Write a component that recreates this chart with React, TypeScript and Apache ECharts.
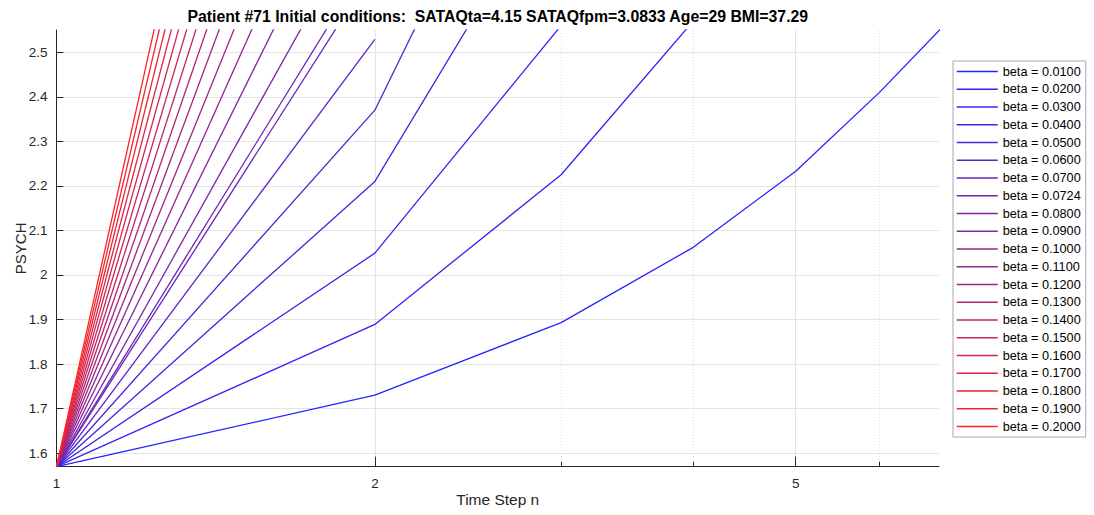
import React, { useEffect, useRef } from "react";
import * as echarts from "echarts";

// ---- data ----
const timeSteps = [1, 2, 3, 4, 5, 6, 7];
const betaLabels = [
  "0.0100", "0.0200", "0.0300", "0.0400", "0.0500", "0.0600", "0.0700",
  "0.0724", "0.0800", "0.0900", "0.1000", "0.1100", "0.1200", "0.1300",
  "0.1400", "0.1500", "0.1600", "0.1700", "0.1800", "0.1900", "0.2000",
];
const psych_b0100 = [1.5695, 1.73, 1.893, 2.062, 2.233, 2.41, 2.575];
const psych_b0200 = [1.5695, 1.889, 2.225, 2.57];
const psych_b0300 = [1.5695, 2.049, 2.56];
const psych_b0400 = [1.5695, 2.21, 2.904];
const psych_b0500 = [1.5695, 2.37, 3.224];
const psych_b0600 = [1.5695, 2.529];
const psych_b0700 = [1.5695, 2.69];
const psych_b0724 = [1.5695, 2.728];
const psych_b0800 = [1.5695, 2.85];
const psych_b0900 = [1.5695, 3.01];
const psych_b1000 = [1.5695, 3.17];
const psych_b1100 = [1.5695, 3.33];
const psych_b1200 = [1.5695, 3.49];
const psych_b1300 = [1.5695, 3.65];
const psych_b1400 = [1.5695, 3.81];
const psych_b1500 = [1.5695, 3.97];
const psych_b1600 = [1.5695, 4.13];
const psych_b1700 = [1.5695, 4.29];
const psych_b1800 = [1.5695, 4.45];
const psych_b1900 = [1.5695, 4.61];
const psych_b2000 = [1.5695, 4.77];

const psychSeries = [
  psych_b0100, psych_b0200, psych_b0300, psych_b0400, psych_b0500, psych_b0600,
  psych_b0700, psych_b0724, psych_b0800, psych_b0900, psych_b1000, psych_b1100,
  psych_b1200, psych_b1300, psych_b1400, psych_b1500, psych_b1600, psych_b1700,
  psych_b1800, psych_b1900, psych_b2000,
];

const xMajorTicks = [1, 2, 5];
const xMinorTicks = [3, 4, 6];
const yTicks = [1.6, 1.7, 1.8, 1.9, 2.0, 2.1, 2.2, 2.3, 2.4, 2.5];
const xMin = 1;
const xMax = 6.83;
const yMin = 1.5695;
const yMax = 2.55;

const titleText =
  "Patient #71 Initial conditions:  SATAQta=4.15 SATAQfpm=3.0833 Age=29 BMI=37.29";

const FONT = '"Liberation Sans", Arial, Helvetica, sans-serif';
const AX = "#262626";

function colorFor(i: number, n: number) {
  const t = i / (n - 1);
  const w = 0.14; // slight lightening, like the anti-aliased reference lines
  const r = Math.round(255 * (t + (1 - t) * w));
  const g = Math.round(255 * w);
  const b = Math.round(255 * ((1 - t) + t * w));
  return `rgb(${r},${g},${b})`;
}

export default function App() {
  const ref = useRef<HTMLDivElement>(null);
  useEffect(() => {
    if (!ref.current) return;
    const chart = echarts.init(ref.current, null, { renderer: "svg" });
    const n = psychSeries.length;
    const series = psychSeries.map((vals, i) => ({
      type: "line",
      name: "beta = " + betaLabels[i],
      xAxisIndex: 0,
      yAxisIndex: 0,
      data: vals.map((v, k) => [timeSteps[k], v]),
      symbol: "none",
      showSymbol: false,
      clip: true,
      color: colorFor(i, n),
      lineStyle: { width: 1.3, color: colorFor(i, n) },
    }));
    const gridLeft = 56.5;
    const gridRight = 155;
    const option: any = {
      animation: false,
      backgroundColor: "#ffffff",
      textStyle: { fontFamily: FONT },
      grid: {
        left: gridLeft,
        right: gridRight,
        top: 30,
        bottom: 48.3,
        containLabel: false,
        outerBoundsMode: "none",
      },
      graphic: [
        {
          type: "text",
          x: (gridLeft + (1094 - gridRight)) / 2,
          y: 16,
          style: {
            text: titleText,
            fill: "#000000",
            font: `bold 15.8px ${FONT}`,
            align: "center",
            verticalAlign: "middle",
          },
        },
      ],
      legend: {
        orient: "vertical",
        left: 953,
        top: 61,
        padding: [4, 5, 4, 3],
        itemWidth: 41,
        itemHeight: 14,
        itemGap: 4.75,
        selectedMode: false,
        backgroundColor: "#ffffff",
        borderColor: "#a8a8a8",
        borderWidth: 1,
        itemStyle: { opacity: 0 },
        lineStyle: { width: 1.5 },
        textStyle: { fontSize: 12.7, color: "#000000", fontFamily: FONT },
        data: betaLabels.map((b) => "beta = " + b),
      },
      xAxis: [
        {
          type: "log",
          logBase: 10,
          min: xMin,
          max: xMax,
          position: "bottom",
          name: "Time Step n",
          nameLocation: "middle",
          nameGap: 25,
          nameMoveOverlap: false,
          nameTextStyle: { fontSize: 15.5, color: AX, fontFamily: FONT },
          axisLine: { show: true, lineStyle: { color: AX, width: 1 } },
          axisTick: {
            show: true,
            inside: true,
            length: 10,
            customValues: xMajorTicks,
            lineStyle: { color: AX, width: 1 },
          },
          axisLabel: {
            customValues: xMajorTicks,
            fontSize: 13.5,
            color: AX,
            margin: 10,
            fontFamily: FONT,
            formatter: (v: number) => String(Math.round(v)),
          },
          splitLine: { show: true, lineStyle: { color: "#e4e4e4", width: 1 } },
        },
        {
          type: "log",
          logBase: 10,
          min: xMin,
          max: xMax,
          position: "bottom",
          axisLine: { show: false },
          axisTick: {
            show: true,
            inside: true,
            length: 5,
            customValues: xMinorTicks,
            lineStyle: { color: AX, width: 1 },
          },
          axisLabel: { show: false },
          splitLine: {
            show: true,
            lineStyle: { color: "#dcdcdc", width: 1, type: [1, 2] },
          },
        },
      ],
      yAxis: {
        type: "value",
        min: yMin,
        max: yMax,
        name: "PSYCH",
        nameLocation: "middle",
        nameGap: 29,
        nameMoveOverlap: false,
        nameTextStyle: { fontSize: 15, color: AX, fontFamily: FONT },
        axisLine: { show: true, lineStyle: { color: AX, width: 1 } },
        axisTick: {
          show: true,
          inside: true,
          length: 7,
          customValues: yTicks,
          lineStyle: { color: AX, width: 1 },
        },
        axisLabel: {
          customValues: yTicks,
          fontSize: 13.5,
          color: AX,
          margin: 9,
          fontFamily: FONT,
        },
        splitLine: { show: true, lineStyle: { color: "#e4e4e4", width: 1 } },
      },
      series,
    };
    chart.setOption(option);
    return () => chart.dispose();
  }, []);
  return (
    <div
      ref={ref}
      style={{ position: "absolute", left: 0, top: 0, width: 1094, height: 515 }}
    />
  );
}
